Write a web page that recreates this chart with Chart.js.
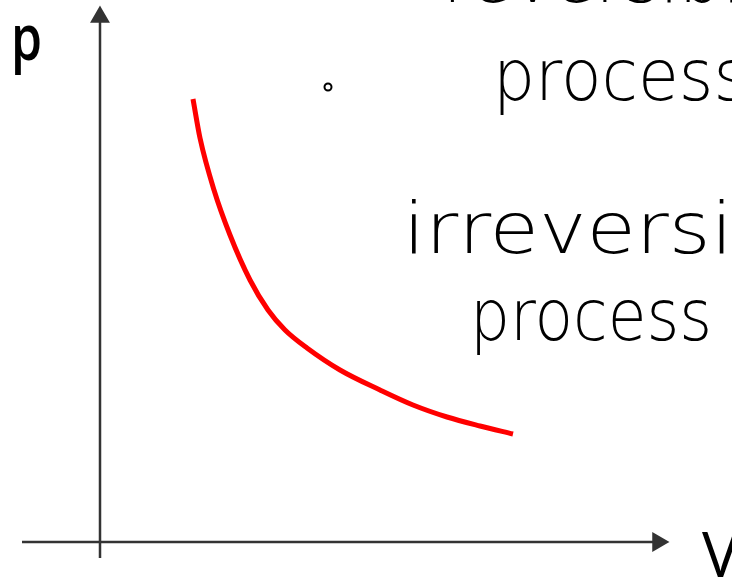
<!DOCTYPE html>
<html>
<head>
<meta charset="utf-8">
<script src="https://cdn.jsdelivr.net/npm/chart.js@4.4.1/dist/chart.umd.min.js"></script>
<style>
  html, body { margin: 0; padding: 0; background: #fff; }
  #wrap { width: 732px; height: 579px; }
</style>
</head>
<body>
<div id="wrap"><canvas id="c" width="732" height="579"></canvas></div>
<script>
// p-V sketch, arbitrary units (origin where the axes cross)
const curveV = [1.86, 2.0, 2.28, 2.6, 3.0, 3.36, 3.7, 4.14, 4.8, 5.6, 6.26, 6.94, 7.6, 8.26];
const curveP = [8.86, 8.08, 7.04, 6.14, 5.24, 4.64, 4.24, 3.88, 3.44, 3.04, 2.74, 2.5, 2.32, 2.16];

const yAxisPts = [{x: 0, y: -0.32}, {x: 0, y: 10.5}];
const xAxisPts = [{x: -1.56, y: 0}, {x: 11.16, y: 0}];
const dotPt = [{x: 4.56, y: 9.1}];

// handwritten notes: text, anchor (units), font size, text to fit and its width in px
const notes = [
  {text: 'reversible', x: 6.86, y: 10.8, size: 72, fit: 'rev', w: 110},
  {text: 'process', x: 7.86, y: 8.84, size: 72, fit: 'process', w: 255},
  {text: 'irreversible', x: 6.06, y: 5.78, size: 72, fit: 'irreversi', w: 330},
  {text: 'process', x: 7.4, y: 4.04, size: 72, fit: 'process', w: 242}
];

const curve = curveV.map((v, i) => ({x: v, y: curveP[i]}));

const labelsPlugin = {
  id: 'labels',
  afterDatasetsDraw(chart) {
    const ctx = chart.ctx;
    const xs = chart.scales.x, ys = chart.scales.y;
    ctx.save();
    ctx.fillStyle = '#000';
    ctx.textBaseline = 'alphabetic';

    // axis letters
    ctx.save();
    ctx.font = '600 64px "Open Sans"';
    ctx.translate(xs.getPixelForValue(-1.78), ys.getPixelForValue(9.64));
    ctx.scale(0.78, 1);
    ctx.fillText('p', 0, 0);
    ctx.restore();
    ctx.font = '62px "Open Sans"';
    ctx.fillText('V', xs.getPixelForValue(12.04), ys.getPixelForValue(-0.7));

    // handwriting
    notes.forEach(n => {
      ctx.save();
      ctx.font = '200 ' + n.size + 'px "DejaVu Sans"';
      const k = n.w / ctx.measureText(n.fit).width;
      ctx.translate(xs.getPixelForValue(n.x), ys.getPixelForValue(n.y));
      ctx.scale(k, 1);
      ctx.fillText(n.text, 0, 0);
      ctx.restore();
    });
    ctx.restore();
  }
};

new Chart(document.getElementById('c'), {
  type: 'scatter',
  data: {
    datasets: [
      {
        data: yAxisPts,
        showLine: true,
        borderColor: '#333',
        backgroundColor: '#333',
        borderWidth: 2.5,
        pointStyle: 'triangle',
        pointRadius: [0, 9],
        pointRotation: 0
      },
      {
        data: xAxisPts,
        showLine: true,
        borderColor: '#333',
        backgroundColor: '#333',
        borderWidth: 2.5,
        pointStyle: 'triangle',
        pointRadius: [0, 9],
        pointRotation: 90
      },
      {
        data: curve,
        showLine: true,
        borderColor: '#ff0000',
        borderWidth: 5,
        pointRadius: 0,
        cubicInterpolationMode: 'monotone'
      },
      {
        data: dotPt,
        pointStyle: 'circle',
        pointRadius: 3.5,
        borderWidth: 2,
        borderColor: '#000',
        backgroundColor: 'rgba(0,0,0,0)'
      }
    ]
  },
  options: {
    responsive: false,
    animation: false,
    layout: { padding: 0, autoPadding: false },
    plugins: {
      legend: { display: false },
      tooltip: { enabled: false }
    },
    scales: {
      x: { type: 'linear', min: -2, max: 12.64, display: false },
      y: { type: 'linear', min: -0.74, max: 10.84, display: false }
    }
  },
  plugins: [labelsPlugin]
});
</script>
</body>
</html>
